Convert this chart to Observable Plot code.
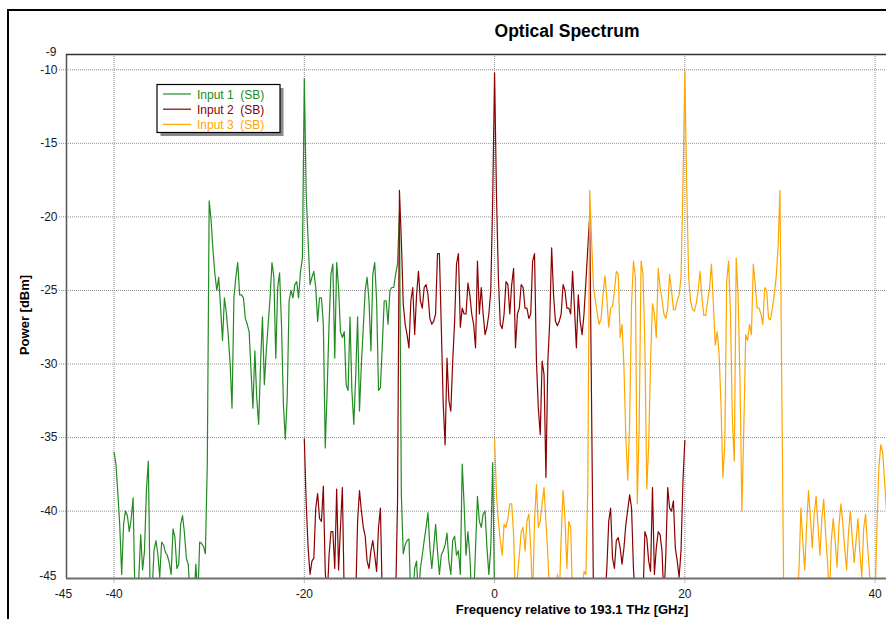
<!DOCTYPE html>
<html>
<head>
<meta charset="utf-8">
<script src="https://cdn.jsdelivr.net/npm/d3@7"></script>
<script src="https://cdn.jsdelivr.net/npm/@observablehq/plot@0.6"></script>
<style>
  body { margin: 0; background: #fff; }
  svg { display: block; }
</style>
</head>
<body>
<div id="chart"></div>
<script>
const FONT = '"Liberation Sans", Arial, sans-serif';

// Trace names, colours and the first frequency of each trace (GHz from 193.1 THz)
const series = ["Input 1  (SB)", "Input 2  (SB)", "Input 3  (SB)"];
const colors = ["#228B22", "#8B0000", "#FFA500"];
const starts = [-40, -20, 0];
const step = 0.2; // analyser resolution, GHz

// Power in dBm, one value per 0.2 GHz; each row covers 2 GHz
const input1 = [
  -36.0, -36.8, -38.8, -41.0, -44.3, -40.9, -40.0, -40.3, -41.4, -40.5, // -40
  -39.1, -46.0, -46.0, -44.5, -41.6, -44.0, -42.7, -38.6, -36.6, -46.0, // -38
  -45.5, -42.7, -42.0, -42.9, -44.5, -42.1, -42.3, -42.8, -43.0, -43.5, // -36
  -44.3, -41.2, -41.8, -43.9, -43.6, -40.9, -40.3, -41.5, -43.2, -43.6, // -34
  -46.0, -46.0, -46.0, -43.6, -46.0, -42.1, -42.2, -42.4, -42.9, -36.8, // -32
  -18.9, -20.2, -22.3, -23.9, -25.0, -24.1, -26.2, -28.4, -25.5, -26.5, // -30
  -28.0, -30.0, -33.0, -25.5, -24.1, -23.1, -25.3, -25.3, -25.5, -26.9, // -28
  -27.3, -27.8, -30.5, -33.0, -29.1, -32.3, -34.1, -30.0, -26.8, -31.4, // -26
  -29.1, -27.3, -25.5, -23.1, -24.1, -29.6, -24.8, -23.8, -27.3, -32.7, // -24
  -35.1, -32.3, -25.7, -25.0, -25.5, -24.6, -24.4, -25.5, -23.7, -22.8, // -22
  -10.6, -18.5, -21.6, -24.6, -24.1, -23.7, -24.8, -27.1, -25.5, -25.5, // -20
  -27.3, -35.7, -31.8, -27.3, -23.9, -23.2, -29.6, -23.1, -24.8, -27.8, // -18
  -28.2, -27.8, -31.4, -31.8, -26.8, -31.8, -34.1, -30.9, -26.8, -33.2, // -16
  -30.0, -27.5, -25.0, -24.1, -25.7, -29.1, -23.9, -23.1, -25.7, -31.8, // -14
  -31.6, -28.7, -25.7, -25.7, -27.3, -25.0, -24.8, -24.8, -23.9, -23.2, // -12
  -19.7, -38.9, -42.9, -42.3, -42.0, -41.9, -46.0, -46.0, -43.9, -43.4, // -10
  -46.0, -43.9, -43.0, -42.0, -41.1, -40.1, -42.5, -43.9, -42.5, -40.9, // -8
  -42.7, -44.3, -43.0, -42.7, -42.3, -41.5, -43.4, -44.3, -42.0, -41.7, // -6
  -43.0, -42.7, -44.3, -36.8, -39.6, -43.0, -41.4, -43.0, -46.0, -46.0, // -4
  -42.5, -39.0, -40.7, -41.1, -40.2, -40.0, -42.5, -44.3, -42.5, -36.7, // -2
  -46.0                                                                   // 0
];

const input2 = [
  -35.1, -39.5, -42.5, -44.3, -43.4, -43.2, -39.8, -38.8, -40.5, -40.7, // -20
  -38.3, -44.1, -46.0, -43.0, -41.4, -41.4, -43.9, -38.5, -44.0, -41.1, // -18
  -38.4, -46.0, -46.0, -46.0, -46.0, -46.0, -46.0, -46.0, -40.7, -38.6, // -16
  -40.0, -41.1, -41.7, -43.4, -43.9, -42.7, -42.0, -43.0, -44.1, -41.1, // -14
  -39.8, -46.0, -46.0, -46.0, -46.0, -46.0, -46.0, -46.0, -46.0, -39.3, // -12
  -18.2, -21.6, -25.9, -27.3, -28.0, -28.9, -25.7, -24.8, -28.0, -25.3, // -10
  -23.7, -25.7, -26.2, -24.8, -24.6, -25.3, -26.9, -27.3, -27.1, -26.6, // -8
  -22.5, -22.5, -27.5, -32.7, -35.5, -29.6, -32.5, -33.2, -29.8, -27.1, // -6
  -23.2, -22.5, -27.5, -26.2, -26.6, -26.6, -24.5, -25.3, -26.6, -27.3, // -4
  -28.9, -23.0, -26.6, -24.8, -26.6, -28.0, -27.5, -26.6, -25.0, -18.9, // -2
  -10.2, -18.5, -24.1, -27.3, -27.6, -26.6, -24.4, -24.6, -26.6, -24.6, // 0
  -23.5, -28.9, -26.6, -26.2, -24.6, -24.8, -26.2, -26.2, -26.9, -26.6, // 2
  -23.0, -22.5, -29.8, -33.0, -34.8, -29.8, -30.7, -37.7, -29.8, -27.1, // 4
  -22.1, -25.3, -27.1, -27.4, -27.1, -26.6, -24.6, -25.0, -26.2, -26.2, // 6
  -26.6, -23.7, -26.2, -28.9, -25.3, -27.1, -28.0, -26.6, -24.4, -22.1, // 8
  -20.0, -33.0, -46.0, -46.0, -46.0, -46.0, -46.0, -46.0, -46.0, -43.9, // 10
  -40.7, -39.8, -43.2, -43.9, -42.0, -41.8, -42.5, -43.6, -42.5, -40.9, // 12
  -39.9, -38.9, -39.8, -43.9, -46.0, -46.0, -46.0, -46.0, -46.0, -41.4, // 14
  -41.8, -43.4, -44.1, -38.4, -44.3, -42.5, -41.4, -41.6, -42.7, -46.0, // 16
  -43.0, -38.4, -39.8, -40.0, -39.3, -42.5, -43.4, -44.5, -42.7, -38.0, // 18
  -35.2                                                                   // 20
];

const input3 = [
  -35.1, -38.9, -40.7, -42.0, -43.0, -40.9, -41.1, -40.5, -39.5, -39.5, // 0
  -41.6, -46.0, -44.5, -43.0, -41.4, -41.1, -42.7, -40.7, -40.2, -42.5, // 2
  -46.0, -40.7, -38.2, -41.1, -40.7, -39.5, -38.4, -40.7, -43.0, -46.0, // 4
  -46.0, -46.0, -46.0, -44.3, -46.0, -41.8, -38.6, -40.5, -43.9, -40.7, // 6
  -41.1, -46.0, -46.0, -46.0, -46.0, -46.0, -46.0, -44.1, -44.3, -38.4, // 8
  -18.2, -21.6, -24.8, -25.7, -26.6, -27.3, -26.9, -25.3, -24.0, -25.5, // 10
  -27.5, -26.2, -26.1, -25.0, -23.7, -23.9, -28.2, -27.3, -30.2, -35.0, // 12
  -37.9, -33.9, -25.9, -23.0, -24.1, -39.5, -34.3, -23.0, -23.9, -28.7, // 14
  -38.5, -35.5, -29.8, -25.9, -26.6, -28.2, -23.5, -24.8, -25.6, -26.6, // 16
  -26.9, -26.2, -23.9, -25.0, -26.3, -26.3, -25.7, -25.3, -24.1, -18.0, // 18
  -10.1, -18.0, -24.1, -25.7, -26.3, -26.4, -25.9, -25.0, -23.7, -25.5, // 20
  -26.7, -26.7, -25.7, -24.8, -23.2, -25.9, -28.7, -27.8, -29.3, -32.7, // 22
  -37.7, -35.5, -24.4, -23.0, -26.6, -33.9, -36.6, -22.8, -25.3, -31.2, // 24
  -40.0, -34.3, -28.0, -28.4, -27.3, -28.0, -23.2, -24.6, -26.2, -26.2, // 26
  -26.6, -27.3, -24.8, -25.0, -26.9, -27.0, -26.2, -25.3, -24.1, -22.1, // 28
  -18.2, -32.1, -46.0, -46.0, -46.0, -46.0, -46.0, -46.0, -46.0, -46.0, // 30
  -44.0, -39.8, -42.0, -44.0, -41.0, -38.6, -40.5, -42.5, -40.2, -39.0, // 32
  -41.0, -43.0, -40.5, -39.2, -41.5, -43.5, -46.0, -42.0, -40.5, -42.0, // 34
  -43.8, -41.0, -39.5, -40.8, -42.5, -44.0, -41.5, -40.0, -41.8, -43.5, // 36
  -42.0, -40.5, -42.8, -44.5, -41.2, -40.2, -42.3, -44.0, -46.0, -46.0, // 38
  -46.0, -41.0, -37.0, -35.5, -36.0, -38.0, -40.0, -42.0                // 40
];

// Axis ticks and the visible span of each axis
const xTicks = [-40, -20, 0, 20, 40];
const yTicks = [-10, -15, -20, -25, -30, -35, -40];
const xDomain = [-45, 41.2];
const yDomain = [-44.58, -8.96];

const traces = [input1, input2, input3];
const rows = traces.flatMap((vals, k) =>
  vals.map((p, i) => ({ s: series[k], f: +(starts[k] + i * step).toFixed(1), p }))
);

const grid = { stroke: "#8f8f8f", strokeOpacity: 1, strokeDasharray: "1,1" };
const plain = d => String(Math.round(d)); // hyphen-minus labels

const chart = Plot.plot({
  width: 886,
  height: 619,
  marginTop: 54,
  marginLeft: 66,
  marginRight: 0,
  marginBottom: 41,
  style: { fontFamily: FONT, fontSize: "12px", color: "#1a1a22", background: "#fff" },
  x: { domain: xDomain },
  y: { domain: yDomain },
  color: { domain: series, range: colors },
  marks: [
    Plot.gridX(xTicks, grid),
    Plot.gridY(yTicks, grid),
    Plot.axisX(xTicks, { tickSize: 6, tickPadding: 5, ...grid, fontSize: 12, label: null, tickFormat: plain }),
    Plot.axisY(yTicks, { tickSize: 7, tickPadding: 2, ...grid, fontSize: 12, label: null, tickFormat: plain }),
    // end-of-range labels
    Plot.axisX([xDomain[0]], { tickSize: 0, tickPadding: 11, dx: -3, fontSize: 12, label: null, tickFormat: plain }),
    Plot.axisY(yDomain, { tickSize: 0, tickPadding: 10, fontSize: 12, label: null, tickFormat: plain, dy: -2 }),
    Plot.line(rows, { x: "f", y: "p", z: "s", stroke: "s", strokeWidth: 1.2, clip: true }),
    // plot frame
    Plot.ruleX([xDomain[0]], { stroke: "#555", strokeWidth: 1.5 }),
    Plot.ruleY([yDomain[1]], { stroke: "#333", strokeWidth: 1.5 }),
    Plot.ruleY([yDomain[0]], { stroke: "#6e6e6e", strokeWidth: 2 })
  ]
});

const svg = d3.select(chart);

// outer panel border
svg.append("path")
  .attr("d", "M8,619V10H886")
  .attr("fill", "none")
  .attr("stroke", "#000")
  .attr("stroke-width", 2);

// title and axis titles
svg.append("text")
  .attr("x", 567).attr("y", 37)
  .attr("text-anchor", "middle")
  .attr("font-family", FONT).attr("font-weight", "bold").attr("font-size", 17.5)
  .attr("fill", "#000")
  .text("Optical Spectrum");

svg.append("text")
  .attr("x", 572).attr("y", 614)
  .attr("text-anchor", "middle")
  .attr("font-family", FONT).attr("font-weight", "bold").attr("font-size", 13)
  .attr("fill", "#000")
  .text("Frequency relative to 193.1 THz [GHz]");

svg.append("text")
  .attr("transform", "translate(29,315) rotate(-90)")
  .attr("text-anchor", "middle")
  .attr("font-family", FONT).attr("font-weight", "bold").attr("font-size", 13)
  .attr("fill", "#000")
  .text("Power [dBm]");

// legend box with drop shadow
const lg = svg.append("g").attr("transform", "translate(157,84.5)");
lg.append("rect").attr("x", 3.5).attr("y", 3.5).attr("width", 123).attr("height", 48).attr("fill", "#8a8a8a");
lg.append("rect").attr("width", 123).attr("height", 48).attr("fill", "#fff").attr("stroke", "#000").attr("stroke-width", 1.2);
series.forEach((s, i) => {
  const y = 9.5 + 15.2 * i;
  lg.append("line")
    .attr("x1", 6).attr("x2", 34).attr("y1", y).attr("y2", y)
    .attr("stroke", colors[i]).attr("stroke-width", 1.2);
  lg.append("text")
    .attr("x", 40).attr("y", y + 4.5)
    .attr("text-anchor", "start")
    .attr("font-family", FONT).attr("font-size", 12)
    .attr("fill", colors[i])
    .style("white-space", "pre")
    .text(s);
});

document.getElementById("chart").appendChild(chart);
</script>
</body>
</html>
